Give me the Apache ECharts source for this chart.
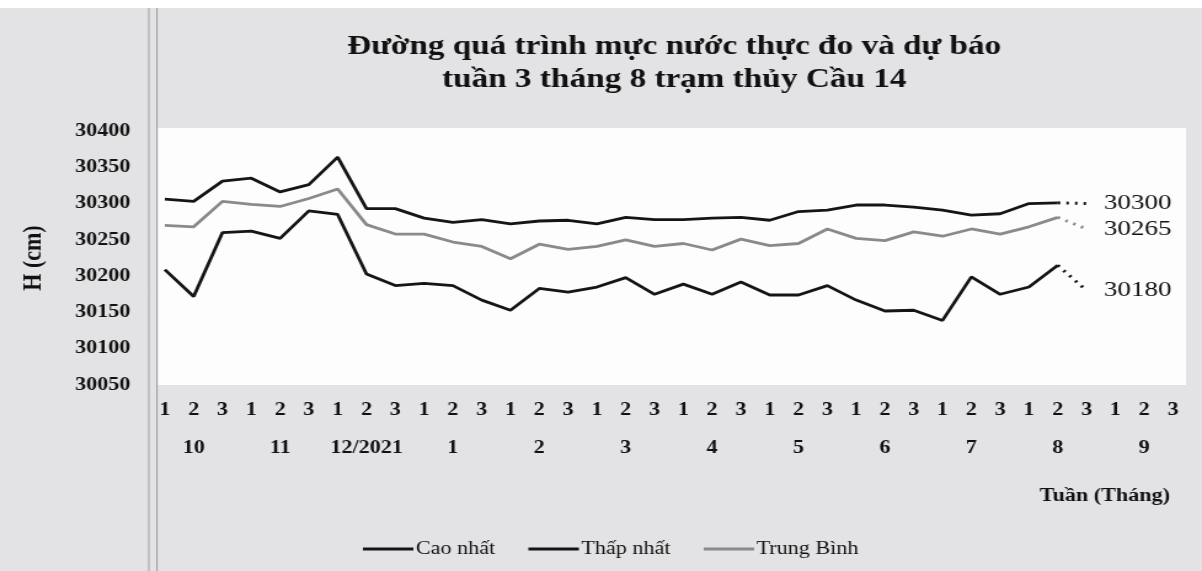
<!DOCTYPE html>
<html>
<head>
<meta charset="utf-8">
<script src="https://cdn.jsdelivr.net/npm/echarts@6/dist/echarts.min.js"></script>
<style>
  html, body { margin: 0; padding: 0; background: #ffffff; overflow: hidden; }
  /* scan is stretched sideways, so draw narrower and stretch */
  #myChart {
    width: 977px;
    height: 571px;
    transform: scaleX(1.2303);
    transform-origin: 0 0;
  }
</style>
</head>
<body>
<div id="myChart"></div>
<script>
// tuần trong tháng
var weeks = ['1', '2', '3'];
var months = ['10', '11', '12/2021', '1', '2', '3', '4', '5', '6', '7', '8', '9'];

// mực nước thực đo (cm)
var caoNhat = [30306, 30303, 30331, 30335, 30316, 30326, 30364, 30293, 30293, 30280, 30274, 30278,
  30272, 30276, 30277, 30272, 30281, 30278, 30278, 30280, 30281, 30277, 30289, 30291,
  30298, 30298, 30295, 30291, 30284, 30286, 30300, 30301];
var thapNhat = [30209, 30172, 30260, 30262, 30252, 30290, 30285, 30203, 30187, 30190, 30187, 30167,
  30153, 30183, 30178, 30185, 30198, 30175, 30189, 30175, 30192, 30174, 30174, 30187,
  30167, 30152, 30153, 30139, 30199, 30175, 30185, 30215];
var trungBinh = [30270, 30268, 30303, 30299, 30296, 30307, 30320, 30271, 30258, 30258, 30247, 30241,
  30224, 30244, 30237, 30241, 30250, 30241, 30245, 30236, 30251, 30242, 30245, 30265,
  30252, 30249, 30261, 30255, 30265, 30258, 30268, 30281];

// dự báo tuần 3 tháng 8
var duBao = { cao: 30300, thap: 30180, tb: 30265 };

var yTicks = { min: 30050, max: 30400, step: 50 };

var FONT = "'Liberation Serif', 'Times New Roman', serif";

// trục x: tuần + tháng
var catWeek = [];
var catMonth = [];
months.forEach(function (m) {
  weeks.forEach(function (w, j) {
    catWeek.push(w);
    catMonth.push(j === 1 ? m : '');
  });
});

// nét chấm từ điểm thực đo cuối tới giá trị dự báo
function forecast(arr, f) {
  var d = arr.map(function (v, i) { return i === arr.length - 1 ? v : null; });
  d.push(f);
  return d;
}

function solid(name, data, color) {
  return {
    name: name, type: 'line', data: data,
    symbol: 'none', z: 3,
    lineStyle: { color: color, width: 2.8 },
    itemStyle: { color: color }
  };
}

function dotted(data, color) {
  return {
    name: 'dự báo', type: 'line', data: data,
    symbol: 'none', z: 3,
    lineStyle: { color: color, width: 3, type: [2, 5] },
    endLabel: {
      show: true, distance: 14,
      formatter: function (p) { return String(p.value); },
      fontFamily: FONT, fontSize: 22, color: '#111'
    }
  };
}

var myChart = echarts.init(document.getElementById('myChart'));
var option = {
  animation: false,
  backgroundColor: '#e3e3e5',
  title: {
    text: 'Đường quá trình mực nước thực đo và dự báo\ntuần 3 tháng 8 trạm thủy Cầu 14',
    left: 543, top: 26, textAlign: 'center',
    textStyle: { fontFamily: FONT, fontSize: 27, fontWeight: 'bold', lineHeight: 33, color: '#111' }
  },
  graphic: [
    { type: 'rect', shape: { x: 0, y: 0, width: 977, height: 8 }, style: { fill: '#ffffff' }, z: -10 },
    { type: 'rect', shape: { x: 128.4, y: 128, width: 835.6, height: 257 }, style: { fill: '#fdfdfd' }, z: -10 },
    { type: 'line', shape: { x1: 121, y1: 8, x2: 121, y2: 571 }, style: { stroke: '#a0a0a0', lineWidth: 1 }, z: -5 },
    { type: 'line', shape: { x1: 127.6, y1: 8, x2: 127.6, y2: 571 }, style: { stroke: '#9a9a9a', lineWidth: 1 }, z: -5 },
    {
      type: 'text', right: 977 - 951, top: 487,
      style: { text: 'Tuần (Tháng)', font: 'bold 18px ' + FONT, fill: '#111' }
    }
  ],
  legend: {
    data: ['Cao nhất', 'Thấp nhất', 'Trung Bình'],
    left: 290, top: 535,
    icon: 'rect', itemWidth: 41, itemHeight: 3, itemGap: 27,
    textStyle: { fontFamily: FONT, fontSize: 18, color: '#111', padding: [0, 0, 0, -3] }
  },
  grid: { left: 134, right: 23.6, top: 131, bottom: 186 },
  xAxis: [
    {
      type: 'category', data: catWeek, boundaryGap: false,
      axisLine: { show: false }, axisTick: { show: false },
      axisLabel: { interval: 0, margin: 16, fontFamily: FONT, fontSize: 18, fontWeight: 'bold', color: '#111' }
    },
    {
      type: 'category', data: catMonth, boundaryGap: false, position: 'bottom', offset: 38,
      axisLine: { show: false }, axisTick: { show: false },
      axisLabel: { interval: 0, margin: 16, fontFamily: FONT, fontSize: 18, fontWeight: 'bold', color: '#111' }
    }
  ],
  yAxis: {
    type: 'value', min: yTicks.min, max: yTicks.max, interval: yTicks.step,
    name: 'H (cm)', nameLocation: 'middle', nameGap: 96, nameRotate: 90,
    nameTextStyle: { fontFamily: FONT, fontSize: 22, fontWeight: 'bold', color: '#111' },
    axisLine: { show: false }, axisTick: { show: false }, splitLine: { show: false },
    axisLabel: {
      margin: 28, fontFamily: FONT, fontSize: 18, fontWeight: 'bold', color: '#111',
      formatter: function (v) { return String(v); }
    }
  },
  series: [
    solid('Cao nhất', caoNhat, '#151515'),
    solid('Thấp nhất', thapNhat, '#151515'),
    solid('Trung Bình', trungBinh, '#8a8a8a'),
    dotted(forecast(caoNhat, duBao.cao), '#151515'),
    dotted(forecast(thapNhat, duBao.thap), '#151515'),
    dotted(forecast(trungBinh, duBao.tb), '#8a8a8a')
  ]
};
myChart.setOption(option);
</script>
</body>
</html>
